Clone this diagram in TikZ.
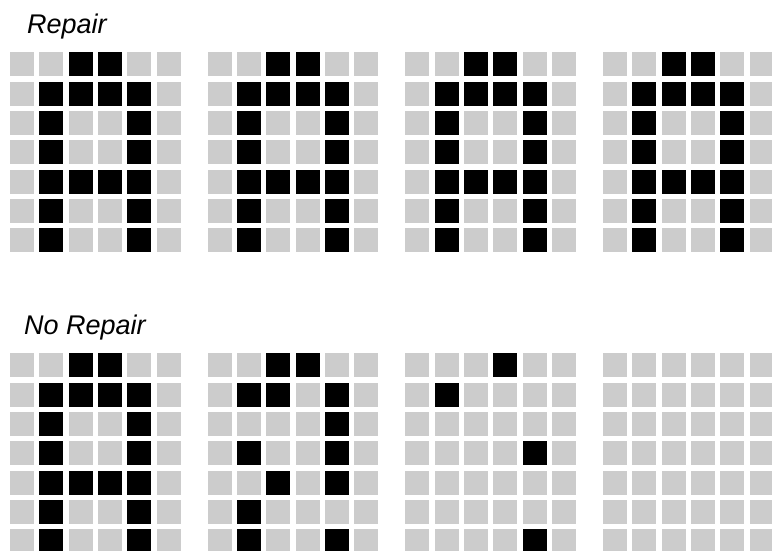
\documentclass[tikz,border=0pt]{standalone}
\usepackage{fontspec}
\setmainfont{Liberation Sans}
\usetikzlibrary{positioning}

% black cells as column/row pairs
\newcommand{\glyphfull}{3/1,4/1,2/2,3/2,4/2,5/2,2/3,5/3,2/4,5/4,2/5,3/5,4/5,5/5,2/6,5/6,2/7,5/7}
\newcommand{\glyphhalf}{3/1,4/1,2/2,3/2,5/2,5/3,2/4,5/4,3/5,5/5,2/6,2/7,5/7}
\newcommand{\glyphfew}{4/1,2/2,5/4,5/7}

\begin{document}
\begin{tikzpicture}[x=1pt, y=-1pt,
  every node/.style={font=\itshape\fontsize{27}{30}\selectfont},
  cell/.style={fill=black!20},
  on/.style={fill=black}
]
  \useasboundingbox (0,0) rectangle (772,551);

  \node[anchor=base west, inner sep=0] (rep)   at (27,34)  {Repair};
  \node[anchor=base west, inner sep=0] (norep) at (24,334) {No Repair};

  % gray background cells
  \foreach \g in {0,...,3}
    \foreach \top in {52.3,353.3}
      \foreach \c in {1,...,6}
        \foreach \r in {1,...,7}
          \fill[cell] ({10+197.7*\g+29.3*(\c-1)},{\top+29.3*(\r-1)}) rectangle ++(24,24);

  % repair: every copy intact
  \foreach \g in {0,...,3}
    \foreach \c/\r in \glyphfull
      \fill[on] ({10+197.7*\g+29.3*(\c-1)},{52.3+29.3*(\r-1)}) rectangle ++(24,24);

  % no repair: decaying copies
  \foreach \c/\r in \glyphfull
    \fill[on] ({10+29.3*(\c-1)},{353.3+29.3*(\r-1)}) rectangle ++(24,24);
  \foreach \c/\r in \glyphhalf
    \fill[on] ({207.7+29.3*(\c-1)},{353.3+29.3*(\r-1)}) rectangle ++(24,24);
  \foreach \c/\r in \glyphfew
    \fill[on] ({405.4+29.3*(\c-1)},{353.3+29.3*(\r-1)}) rectangle ++(24,24);
\end{tikzpicture}
\end{document}
